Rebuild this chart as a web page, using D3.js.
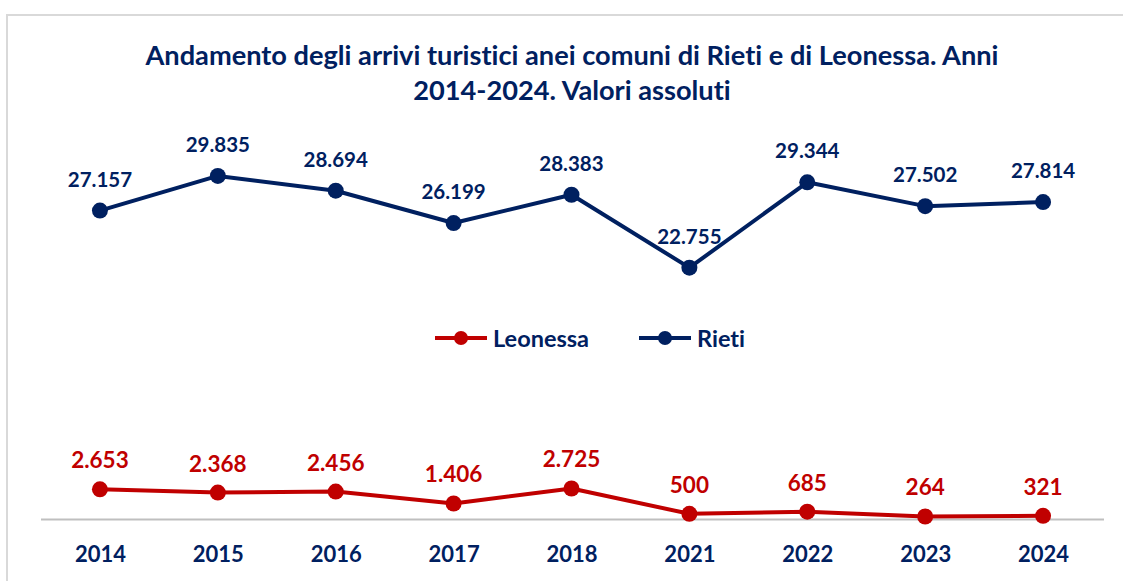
<!DOCTYPE html>
<html>
<head>
<meta charset="utf-8">
<script src="https://cdn.jsdelivr.net/npm/d3@7"></script>
<style>
  html, body { margin: 0; padding: 0; background: #fff; }
  svg { display: block; font-family: Lato, "Open Sans", sans-serif; font-variant-ligatures: none; }
</style>
</head>
<body>
<div id="chart"></div>
<script>
const years = ['2014', '2015', '2016', '2017', '2018', '2021', '2022', '2023', '2024'];
const rieti = [27157, 29835, 28694, 26199, 28383, 22755, 29344, 27502, 27814];
const leonessa = [2653, 2368, 2456, 1406, 2725, 500, 685, 264, 321];
const titleLines = [
  'Andamento degli arrivi turistici anei comuni di Rieti e di Leonessa. Anni',
  '2014-2024. Valori assoluti'
];

const navy = '#002060';
const red = '#c00000';
const width = 1123;
const height = 581;

const fmt = v => d3.format(',')(v).replace(/,/g, '.');

const svg = d3.select('#chart').append('svg')
  .attr('width', width)
  .attr('height', height);

// chart frame (only top and left edges are visible in the crop)
svg.append('rect')
  .attr('x', 7).attr('y', 15)
  .attr('width', width + 10).attr('height', height + 10)
  .attr('fill', 'none')
  .attr('stroke', '#d9d9d9')
  .attr('stroke-width', 2);

svg.append('text')
  .attr('text-anchor', 'middle')
  .attr('fill', navy)
  .attr('font-size', 27.2)
  .attr('font-weight', 700)
  .selectAll('tspan')
  .data(titleLines)
  .join('tspan')
  .attr('x', 572)
  .attr('y', (d, i) => 64.5 + i * 35)
  .text(d => d);

const x = d3.scalePoint()
  .domain(years)
  .range([41, 1102])
  .padding(0.5);

// the two series do not share one scale in the original
const yLeo = d3.scaleLinear().domain([0, 35000]).range([519.5, 121]);
const yRieti = d3.scaleLinear().domain([0, 35000]).range([562.5, 109]);

// baseline
svg.append('line')
  .attr('x1', x.range()[0]).attr('x2', x.range()[1] + 2)
  .attr('y1', 519.5).attr('y2', 519.5)
  .attr('stroke', '#bfbfbf')
  .attr('stroke-width', 2);

const xAxis = svg.append('g')
  .attr('transform', 'translate(0,562)')
  .call(d3.axisBottom(x).tickSize(0).tickPadding(0));
xAxis.select('.domain').remove();
xAxis.selectAll('text')
  .attr('dy', 0)
  .attr('y', 0)
  .attr('fill', navy)
  .attr('font-size', 22)
  .attr('font-weight', 700)
  .attr('font-family', 'Lato, "Open Sans", sans-serif');

function drawSeries(values, y, color, labelSize, labelGap) {
  const data = values.map((v, i) => ({ year: years[i], value: v }));
  const g = svg.append('g');
  g.append('path')
    .datum(data)
    .attr('fill', 'none')
    .attr('stroke', color)
    .attr('stroke-width', 4)
    .attr('stroke-linejoin', 'round')
    .attr('d', d3.line().x(d => x(d.year)).y(d => y(d.value)));
  g.selectAll('circle')
    .data(data)
    .join('circle')
    .attr('cx', d => x(d.year))
    .attr('cy', d => y(d.value))
    .attr('r', 8)
    .attr('fill', color);
  g.selectAll('text')
    .data(data)
    .join('text')
    .attr('x', d => x(d.year))
    .attr('y', d => y(d.value) - labelGap)
    .attr('text-anchor', 'middle')
    .attr('fill', color)
    .attr('font-size', labelSize)
    .attr('font-weight', 700)
    .text(d => fmt(d.value));
}

drawSeries(rieti, yRieti, navy, 20.5, 24);
drawSeries(leonessa, yLeo, red, 22.5, 21);

// legend
const legendItems = [
  { name: 'Leonessa', color: red, x: 435 },
  { name: 'Rieti', color: navy, x: 639 }
];
const legend = svg.append('g').attr('transform', 'translate(0,338)');
const item = legend.selectAll('g')
  .data(legendItems)
  .join('g')
  .attr('transform', d => `translate(${d.x},0)`);
item.append('line')
  .attr('x1', 0).attr('x2', 52)
  .attr('stroke', d => d.color)
  .attr('stroke-width', 4);
item.append('circle')
  .attr('cx', 26)
  .attr('r', 7)
  .attr('fill', d => d.color);
item.append('text')
  .attr('x', 58)
  .attr('y', 8.5)
  .attr('fill', navy)
  .attr('font-size', 23.5)
  .attr('font-weight', 700)
  .text(d => d.name);
</script>
</body>
</html>
